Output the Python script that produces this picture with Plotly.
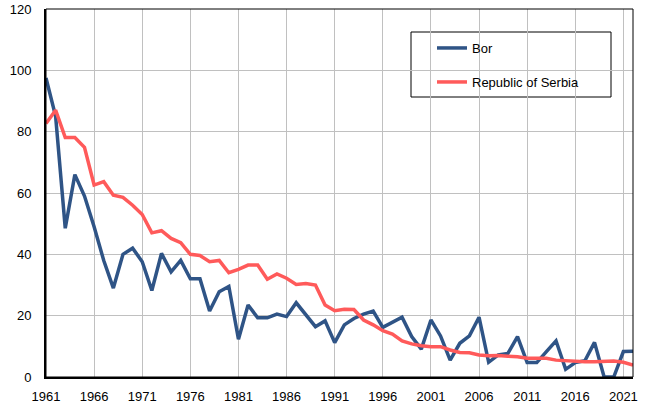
import plotly.graph_objects as go

years = list(range(1961, 2023))

bor = [97.5, 85, 48.5, 66, 59, 49, 38, 29, 40, 42, 37.6, 28.2, 40.3, 34.3, 38, 32,
       32, 21.5, 27.8, 29.5, 12.3, 23.5, 19.3, 19.3, 20.5, 19.7, 24.2, 20.5, 16.4, 18.3,
       11.2, 17, 19.1, 20.5, 21.5, 16.2, 18, 19.5, 13.2, 9.1, 18.6, 13.4, 5.5, 11, 13.4,
       19.5, 4.8, 7.2, 7.7, 13.2, 4.7, 4.7, 8.3, 11.8, 2.5, 4.7, 5.3, 11.3, 0, 0, 8.3, 8.4]

serbia = [82.7, 87, 78.1, 78.1, 74.9, 62.6, 63.7, 59.3, 58.6, 56, 53, 47, 47.7, 45.2,
          43.8, 40, 39.6, 37.6, 38, 34, 35.1, 36.5, 36.5, 31.9, 33.6, 32.2, 30.2, 30.5,
          30, 23.5, 21.6, 22.1, 22, 18.6, 17, 15.1, 14, 11.8, 10.8, 10.2, 9.9, 9.9, 8.8,
          8, 7.9, 7.2, 6.9, 7, 6.8, 6.6, 6.1, 6.1, 6.1, 5.5, 5.3, 5.2, 5, 5, 5, 5.2, 4.8, 3.9]

x_ticks = list(range(1961, 2022, 5))
y_ticks = list(range(0, 121, 20))

FONT = "Liberation Sans, Arial, sans-serif"

fig = go.Figure()
fig.add_trace(go.Scatter(x=years, y=bor, mode="lines", name="Bor", showlegend=True,
                         line=dict(color="#2f5486", width=3.5), legend="legend"))
fig.add_trace(go.Scatter(x=years, y=serbia, mode="lines", name="Republic of Serbia",
                         showlegend=True,
                         line=dict(color="#ff5a5a", width=3.5), legend="legend2"))

# plot area (page px): x 46..633, y 9..377 in a 645x407 page (body margin removed)
W, H = 645, 407
L, T = 46, 9
R = W - 633
B = H - 377
pw, ph = W - L - R, H - T - B

def px_x(px):
    return (px - L) / pw

def px_y(py):
    return (H - B - py) / ph

fig.update_layout(
    width=W, height=H, showlegend=True,
    margin=dict(l=L, r=R, t=T, b=B, autoexpand=False),
    paper_bgcolor="white", plot_bgcolor="white",
    font=dict(family=FONT, size=13, color="#000000"),
    xaxis=dict(range=[1961, 2022], tickvals=x_ticks, showgrid=True, automargin=False,
               gridcolor="#c0c0c0", gridwidth=1, showline=True, linecolor="black",
               linewidth=2, ticks="", ticklabelstandoff=6, zeroline=False,
               tickfont=dict(size=13)),
    yaxis=dict(range=[0, 120], tickvals=y_ticks, showgrid=True, automargin=False,
               gridcolor="#c0c0c0", gridwidth=1, showline=True, linecolor="black",
               linewidth=2, ticks="", ticklabelstandoff=10, zeroline=False,
               tickfont=dict(size=13)),
    legend=dict(x=px_x(432), y=px_y(33), xanchor="left", yanchor="top",
                bgcolor="rgba(0,0,0,0)", borderwidth=0, font=dict(size=13)),
    legend2=dict(x=px_x(432), y=px_y(67), xanchor="left", yanchor="top",
                 bgcolor="rgba(0,0,0,0)", borderwidth=0, font=dict(size=13)),
    shapes=[
        dict(type="rect", xref="paper", yref="paper", x0=0, x1=1, y0=0, y1=1,
             line=dict(color="black", width=1), fillcolor="rgba(0,0,0,0)", layer="above"),
        dict(type="rect", xref="paper", yref="paper", x0=px_x(411), x1=px_x(611),
             y0=px_y(97), y1=px_y(32), line=dict(color="black", width=1),
             fillcolor="white", layer="between"),
    ],
)

fig.write_html("out.html",
               config={"displayModeBar": False},
               post_script="document.body.style.margin='0';"
                           "document.documentElement.style.margin='0';")
